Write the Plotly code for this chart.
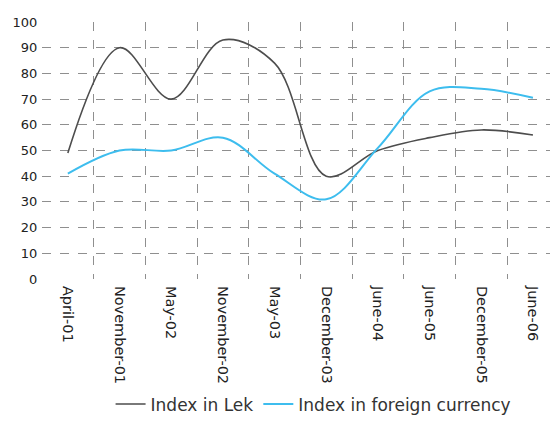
import plotly.graph_objects as go

# Period labels along the x axis
periods = ["April-01", "November-01", "May-02", "November-02", "May-03",
           "December-03", "June-04", "June-05", "December-05", "June-06"]

# Index values for each period
index_lek = [49, 90, 70, 93, 84, 40, 50, 55, 58, 56]
index_foreign = [41, 50, 50, 55, 41, 31, 51, 73, 74, 70.5]

y_ticks = list(range(0, 101, 10))

positions = list(range(len(periods)))

FONT = "DejaVu Sans"
GRID = "#8f8f8f"

fig = go.Figure()
fig.add_trace(go.Scatter(
    x=positions, y=index_lek, name="Index in Lek", mode="lines",
    line=dict(color="#4d4d4d", width=1.6, shape="spline", smoothing=1.0),
))
fig.add_trace(go.Scatter(
    x=positions, y=index_foreign, name="Index in foreign currency", mode="lines",
    line=dict(color="#3dbdee", width=2, shape="spline", smoothing=1.0),
))

fig.update_layout(
    width=550, height=423,
    margin=dict(l=42, r=0, t=22, b=138),
    paper_bgcolor="white", plot_bgcolor="white",
    font=dict(family=FONT, size=13, color="#222"),
    showlegend=True,
    legend=dict(orientation="h", x=0.135, xanchor="left", y=-0.488, yanchor="middle",
                font=dict(family=FONT, size=17, color="#333"),
                bgcolor="rgba(0,0,0,0)", itemwidth=30, tracegroupgap=0),
    xaxis=dict(
        range=[-0.5, 9.33], tickmode="array", tickvals=positions, ticktext=periods,
        tickangle=90, showgrid=False, zeroline=False, showline=False,
        ticks="outside", ticklen=3, tickcolor="rgba(0,0,0,0)",
        tickfont=dict(family=FONT, size=14.5, color="#222"),
        minor=dict(tick0=-0.5, dtick=1, showgrid=True, gridcolor=GRID,
                   griddash="dash", gridwidth=1),
    ),
    yaxis=dict(
        range=[0, 100], tickmode="array", tickvals=y_ticks,
        showgrid=True, gridcolor=GRID, griddash="dash", gridwidth=1,
        zeroline=False, showline=False,
        ticks="outside", ticklen=1, tickcolor="rgba(0,0,0,0)",
        tickfont=dict(family=FONT, size=13, color="#222"),
    ),
)

fig.write_html("out.html")
